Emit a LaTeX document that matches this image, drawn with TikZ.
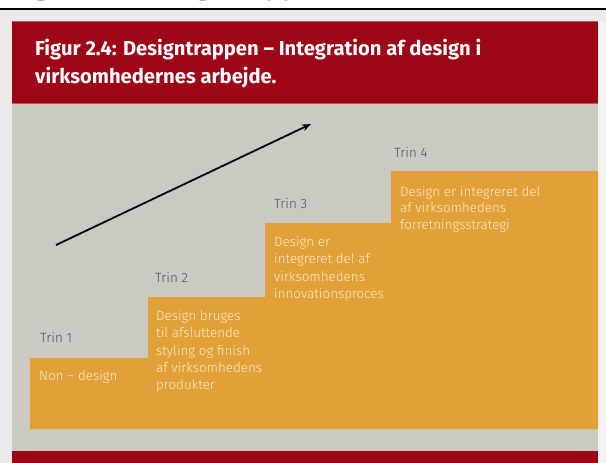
\documentclass[tikz,border=0pt]{standalone}
\usepackage{fontspec}
\setmainfont{Fira Sans}
\newfontfamily\lightfont{Fira Sans Light}
\usetikzlibrary{arrows.meta}
\definecolor{pagegray}{HTML}{EAEAEA}
\definecolor{pagelight}{HTML}{F3F3F3}
\definecolor{headred}{HTML}{9C0617}
\definecolor{edgered}{HTML}{C4545F}
\definecolor{bodygray}{HTML}{CBCAC2}
\definecolor{stairorange}{HTML}{E2A038}
\definecolor{stairtext}{HTML}{F8EBD0}
\definecolor{trintext}{HTML}{4A4E5C}
\definecolor{headingtext}{HTML}{353535}
\tikzset{
  trinlabel/.style={anchor=west, inner sep=0pt, text=trintext,
    font=\lightfont\fontsize{13.4}{15}\selectfont},
  stairlabel/.style={anchor=north west, inner sep=0pt, text=stairtext,
    align=left, font=\lightfont\fontsize{13.4}{17.4}\selectfont},
  titlelabel/.style={anchor=north west, inner sep=0pt, text=white,
    align=left, font=\fontsize{20.2}{28}\selectfont\bfseries},
}
\begin{document}
\begin{tikzpicture}[x=1pt,y=-1pt]
  \useasboundingbox (0,0) rectangle (606,463);
  % page background
  \fill[white] (0,0) rectangle (606,9);
  \fill[pagegray] (0,9) rectangle (606,463);
  \fill[pagelight] (598,21) rectangle (606,463);
  % cut-off chapter heading above the rule
  \begin{scope}
    \clip (0,0) rectangle (606,8);
    \node[anchor=base west, inner sep=0pt, text=headingtext,
      font=\fontsize{29}{30}\selectfont\bfseries] (heading) at (12,-5.7)
      {Figur 2.4: Designtrappen};
  \end{scope}
  \draw[line width=2.6pt, black] (0,9) -- (606,9);
  % figure panel
  \fill[bodygray] (12,104) rectangle (598,451);
  \fill[headred] (12,21) rectangle (598,104);
  \draw[edgered, line width=0.8pt] (12,21.4) -- (598,21.4);
  \draw[edgered, line width=0.8pt] (12,103.6) -- (598,103.6);
  \fill[headred] (12,451) rectangle (598,463);
  \node[titlelabel] (title) at (35,39)
    {Figur 2.4: Designtrappen – Integration af design i\\virksomhedernes arbejde.};
  % the staircase
  \fill[stairorange] (30,429) -- (30,358) -- (148,358) -- (148,297)
    -- (265,297) -- (265,223) -- (391,223) -- (391,171) -- (598,171)
    -- (598,429) -- cycle;
  % step labels
  \node[trinlabel] (trin1) at (40,337) {Trin 1};
  \node[trinlabel] (trin2) at (155,277) {Trin 2};
  \node[trinlabel] (trin3) at (274,204) {Trin 3};
  \node[trinlabel] (trin4) at (394,152) {Trin 4};
  \node[stairlabel, anchor=west] (step1) at (39,377) {Non – design};
  \node[stairlabel] (step2) at (156,310)
    {Design bruges\\til afsluttende\\styling og finish\\af virksomhedens\\produkter};
  \node[stairlabel] (step3) at (274,236)
    {Design er\\integreret del af\\virksomhedens\\innovationsproces};
  \node[stairlabel, font=\lightfont\fontsize{13.4}{16.7}\selectfont] (step4) at (400,186)
    {Design er integreret del\\af virksomhedens\\forretningsstrategi};
  % direction of progress
  \coordinate (arrowstart) at (56,245);
  \coordinate (arrowend) at (311,124);
  \draw[line width=1.8pt, -{Stealth[length=9pt,width=7pt]}] (arrowstart) -- (arrowend);
\end{tikzpicture}
\end{document}
